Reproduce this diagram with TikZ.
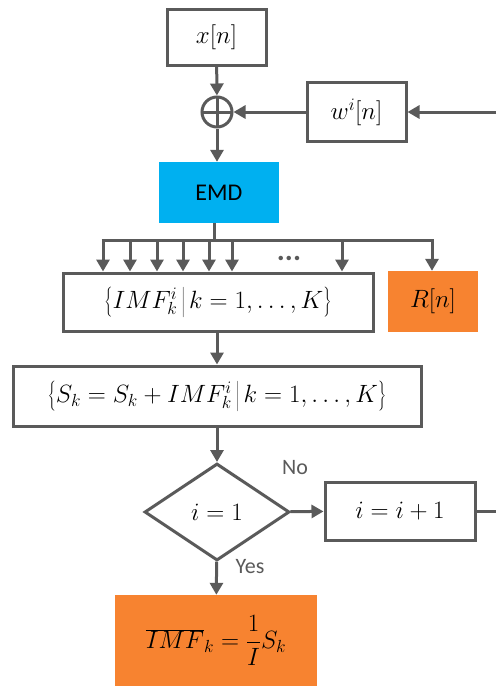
\documentclass[tikz,border=0pt]{standalone}
\usepackage{fix-cm}
\usepackage[no-math]{fontspec}
\newfontfamily\lab{Carlito}
\usetikzlibrary{arrows.meta,shapes.geometric}
\definecolor{lc}{RGB}{90,90,90}
\definecolor{cyanbox}{RGB}{0,176,240}
\definecolor{orbox}{RGB}{247,131,48}
\tikzset{
  arr/.style={draw=lc,line width=3pt,-{Triangle[width=13pt,length=12pt]}},
  ln/.style={draw=lc,line width=3pt},
  box/.style={draw=lc,line width=3pt,fill=white,rectangle,inner sep=0pt,font=\fontsize{25}{30}\selectfont},
  fbox/.style={rectangle,inner sep=0pt,font=\fontsize{25}{30}\selectfont},
  lbl/.style={font=\lab\fontsize{22}{26}\selectfont,text=lc,inner sep=0pt}
}
\begin{document}
\begin{tikzpicture}[x=1pt,y=-1pt]
\useasboundingbox (0,0) rectangle (496,686);
\node[box,minimum width=99pt,minimum height=56pt] (xn) at (216.5,37) {$x[n]$};
\node[circle,draw=lc,line width=3pt,minimum size=30pt,inner sep=0pt,
  path picture={\draw[lc,line width=3pt] (path picture bounding box.north) -- (path picture bounding box.south)
  (path picture bounding box.west) -- (path picture bounding box.east);}] (sum) at (217,112) {};
\node[box,minimum width=99pt,minimum height=59pt] (w) at (356.5,112) {$w^i[n]$};
\node[fbox,fill=cyanbox,minimum width=120pt,minimum height=61pt,font=\lab\fontsize{24}{28}\selectfont] (emd) at (219,192.5) {EMD};
\node[box,minimum width=310pt,minimum height=58pt] (imf) at (218,302) {$\left\{IMF_k^i\,\middle|\,k=1,\ldots,K\right\}$};
\node[fbox,fill=orbox,minimum width=90pt,minimum height=61pt] (r) at (433,301.5) {$R[n]$};
\node[box,minimum width=408pt,minimum height=60pt] (s) at (217,396) {$\left\{S_k=S_k+IMF_k^i\,\middle|\,k=1,\ldots,K\right\}$};
\node[diamond,draw=lc,line width=3pt,fill=white,minimum width=145pt,minimum height=97pt,inner sep=0pt,aspect=1.5,font=\fontsize{25}{30}\selectfont] (d) at (217,512) {$i=1$};
\node[box,minimum width=150pt,minimum height=58pt] (ii) at (400,511) {$i=i+1$};
\node[fbox,fill=orbox,minimum width=202pt,minimum height=91pt] (fin) at (216,640.5) {$\displaystyle\overline{IMF}_k=\frac{1}{I}S_k$};
\node[lbl] (no) at (295,468) {No};
\node[lbl] (yes) at (250,567) {Yes};
\node[font=\lab\bfseries\fontsize{30}{34}\selectfont,text=lc,inner sep=0pt] (dots) at (289,258) {...};
% connectors
\draw[arr] (xn) -- (sum);
\draw[arr] (w) -- (sum);
\coordinate (inR) at (496,112);
\draw[arr] (inR) -- (w);
\draw[arr] (sum) -- (sum |- emd.north);
\coordinate (stem) at (214,240);
\draw[ln] (emd.south -| stem) -- (stem);
\coordinate (b1) at (103,240);
\coordinate (b2) at (130,240);
\coordinate (b3) at (157,240);
\coordinate (b4) at (183,240);
\coordinate (b5) at (209,240);
\coordinate (b6) at (232,240);
\coordinate (b7) at (342,240);
\coordinate (b8) at (432,240);
\draw[ln,line cap=butt] ([xshift=-1.5pt]b1) -- ([xshift=1.5pt]b8);
\foreach \b in {b1,b2,b3,b4,b5,b6,b7}{\draw[arr] (\b) -- (\b |- imf.north);}
\draw[arr] (b8) -- (b8 |- r.north);
\draw[arr] (imf.south -| s.north) -- (s.north);
\draw[arr] (s) -- (d);
\draw[arr] (d) -- (ii);
\coordinate (outR) at (496,511);
\draw[ln] (ii) -- (outR);
\draw[arr] (d) -- (fin);
\end{tikzpicture}
\end{document}
